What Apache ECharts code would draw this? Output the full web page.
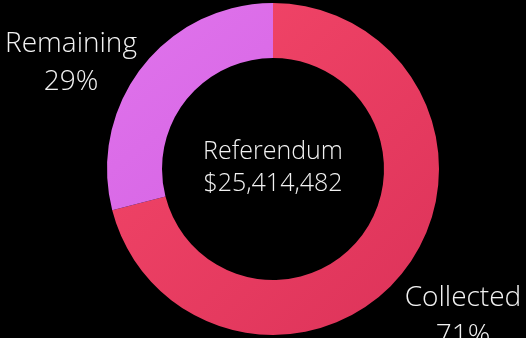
<!DOCTYPE html>
<html><head><meta charset="utf-8">
<script src="https://cdn.jsdelivr.net/npm/echarts@6/dist/echarts.min.js"></script>
<style>html,body{margin:0;padding:0;background:#000;}#c{width:526px;height:338px;}</style>
</head><body><div id="c"></div>
<script>
const categories = ['Collected', 'Remaining'];
const percents = [71, 29];
const centerTitle = 'Referendum';
const centerValue = '$25,414,482';

const colors = [
  new echarts.graphic.LinearGradient(0, 0, 1, 1, [{offset: 0, color: '#f5486a'}, {offset: 1, color: '#dc3259'}]),
  new echarts.graphic.LinearGradient(0, 0, 1, 1, [{offset: 0, color: '#e074ec'}, {offset: 1, color: '#d664e4'}])
];
const labelPos = [{x: 463, y: 317}, {x: 71, y: 63}];

const chart = echarts.init(document.getElementById('c'));
chart.setOption({
  backgroundColor: '#000',
  animation: false,
  graphic: [{
    type: 'text',
    style: {
      text: centerTitle + '\n' + centerValue,
      x: 273, y: 168, align: 'center', verticalAlign: 'middle',
      fill: '#f2f2f2', font: '300 25px "Open Sans"', lineHeight: 32
    }
  }],
  series: [{
    type: 'pie',
    center: [273, 169],
    radius: [111, 166],
    startAngle: 90,
    clockwise: true,
    silent: true,
    data: categories.map((n, i) => ({name: n, value: percents[i], itemStyle: {color: colors[i]}})),
    label: {
      show: true,
      position: 'outside',
      formatter: p => p.name + '\n' + p.value + '%',
      color: '#f2f2f2',
      fontFamily: 'Open Sans',
      fontWeight: 300,
      fontSize: 28,
      lineHeight: 38,
      align: 'center',
      width: 220,
      overflow: 'none'
    },
    labelLine: {show: false},
    labelLayout: p => ({x: labelPos[p.dataIndex].x, y: labelPos[p.dataIndex].y, align: 'center', verticalAlign: 'middle', width: 220})
  }]
});
</script></body></html>
